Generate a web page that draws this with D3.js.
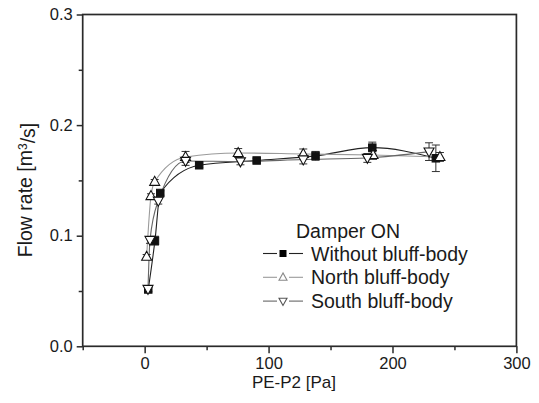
<!DOCTYPE html>
<html>
<head>
<meta charset="utf-8">
<script src="https://cdn.jsdelivr.net/npm/d3@7"></script>
<style>
  html, body { margin: 0; padding: 0; background: #fff; }
  svg { display: block; font-family: "Liberation Sans", Arial, sans-serif; }
</style>
</head>
<body>
<svg id="chart" width="539" height="403"></svg>
<script>
// ---- data ----
const xTicks = [0, 100, 200, 300];
const yTicks = [0.0, 0.1, 0.2, 0.3];
const seriesNames = ["Without bluff-body", "North bluff-body", "South bluff-body"];
const legendTitle = "Damper ON";

const pressureWithout = [2.9, 8.3, 12.6, 44, 90.4, 137.9, 183.7, 235];
const flowWithout     = [0.0514, 0.0955, 0.1386, 0.1637, 0.168, 0.1722, 0.1796, 0.170];
const errWithout      = [0.002, 0.004, 0.002, 0.002, 0.002, 0.004, 0.005, 0.012];

const pressureNorth = [1.6, 5.1, 8.1, 33, 75.5, 128, 184.3, 238.3];
const flowNorth     = [0.081, 0.1359, 0.1488, 0.1712, 0.1748, 0.1739, 0.173, 0.1712];
const errNorth      = [0.002, 0.002, 0.002, 0.005, 0.004, 0.0045, 0.004, 0.004];

const pressureSouth = [2.7, 4.3, 11, 33, 77.3, 128, 179.7, 229.5];
const flowSouth     = [0.0518, 0.0961, 0.1316, 0.1676, 0.1671, 0.1689, 0.1703, 0.176];
const errSouth      = [0.002, 0.003, 0.003, 0.004, 0.003, 0.004, 0.004, 0.008];

// ---- layout ----
const svg = d3.select("#chart");
const L = 82.7, R = 516.4, T = 14.5, B = 346.3;
const x = d3.scaleLinear().domain([-50, 300]).range([L, R]);
const y = d3.scaleLinear().domain([0, 0.3]).range([B, T]);
const axisColor = "#2a2a2a";

const series = [
  { name: seriesNames[0], xs: pressureWithout, ys: flowWithout, es: errWithout, symbol: "square", line: "#222", legendMarker: "#000" },
  { name: seriesNames[1], xs: pressureNorth, ys: flowNorth, es: errNorth, symbol: "up", line: "#9a9a9a", legendMarker: "#888" },
  { name: seriesNames[2], xs: pressureSouth, ys: flowSouth, es: errSouth, symbol: "down", line: "#666", legendMarker: "#555" }
];

// ---- axes ----
const xAxis = d3.axisBottom(x).tickValues(xTicks).tickSize(7).tickFormat(d3.format("d"));
const xMinor = d3.axisBottom(x).tickValues([-50, 50, 150, 250]).tickSize(4).tickFormat("");
const yAxis = d3.axisLeft(y).tickValues(yTicks).tickSize(6).tickFormat(d3.format(".1f"));
const yMinor = d3.axisLeft(y).tickValues([0.05, 0.15, 0.25]).tickSize(4).tickFormat("");

function styleAxis(g) {
  g.select(".domain").remove();
  g.selectAll("line").attr("stroke", axisColor).attr("stroke-width", 1.5);
  g.selectAll("text").attr("fill", "#1a1a1a").style("font-size", "16.5px")
    .style("font-family", '"Liberation Sans", Arial, sans-serif');
}
svg.append("g").attr("transform", `translate(0,${B})`).call(xMinor).call(styleAxis);
svg.append("g").attr("transform", `translate(0,${B})`).call(xAxis).call(styleAxis)
  .selectAll("text").attr("dy", "0.71em").attr("y", 11);
svg.append("g").attr("transform", `translate(${L},0)`).call(yMinor).call(styleAxis);
svg.append("g").attr("transform", `translate(${L},0)`).call(yAxis).call(styleAxis)
  .selectAll("text").attr("x", -10);

// frame
svg.append("rect").attr("x", L).attr("y", T).attr("width", R - L).attr("height", B - T)
  .attr("fill", "none").attr("stroke", axisColor).attr("stroke-width", 1.7);

// axis titles
svg.append("text").attr("x", 294).attr("y", 388).attr("text-anchor", "middle")
  .style("font-size", "17px").attr("fill", "#1a1a1a").text("PE-P2 [Pa]");
const yt = svg.append("text").attr("transform", `translate(32,190) rotate(-90)`)
  .attr("text-anchor", "middle").style("font-size", "19.5px").attr("fill", "#1a1a1a");
yt.append("tspan").text("Flow rate [m");
yt.append("tspan").attr("dy", "-0.45em").style("font-size", "12px").text("3");
yt.append("tspan").attr("dy", "0.45em").text("/s]");

// ---- lines ----
const lineGen = d3.line().x(d => x(d[0])).y(d => y(d[1])).curve(d3.curveMonotoneX);
const plot = svg.append("g");
series.forEach(s => {
  const pts = s.xs.map((v, i) => [v, s.ys[i]]);
  plot.append("path").datum(pts).attr("d", lineGen).attr("fill", "none")
    .attr("stroke", s.line).attr("stroke-width", 1.1);
});

// ---- error bars ----
series.forEach(s => {
  s.xs.forEach((v, i) => {
    const cx = x(v), y1 = y(s.ys[i] + s.es[i]), y2 = y(s.ys[i] - s.es[i]);
    const g = plot.append("g").attr("stroke", "#333").attr("stroke-width", 1);
    g.append("line").attr("x1", cx).attr("x2", cx).attr("y1", y1).attr("y2", y2);
    g.append("line").attr("x1", cx - 4).attr("x2", cx + 4).attr("y1", y1).attr("y2", y1);
    g.append("line").attr("x1", cx - 4).attr("x2", cx + 4).attr("y1", y2).attr("y2", y2);
  });
});

// ---- markers ----
function drawMarker(g, type, cx, cy, size, color) {
  if (type === "square") {
    g.append("rect").attr("x", cx - size / 2).attr("y", cy - size / 2)
      .attr("width", size).attr("height", size).attr("fill", color).attr("stroke", color);
  } else {
    const h = size * 0.9, w = size;
    const pts = type === "up"
      ? [[cx, cy - h * 0.6], [cx - w / 2, cy + h * 0.4], [cx + w / 2, cy + h * 0.4]]
      : [[cx, cy + h * 0.6], [cx - w / 2, cy - h * 0.4], [cx + w / 2, cy - h * 0.4]];
    g.append("polygon").attr("points", pts.map(p => p.join(",")).join(" "))
      .attr("fill", "#fff").attr("stroke", color).attr("stroke-width", 1.1);
  }
}
series.forEach(s => {
  s.xs.forEach((v, i) => {
    drawMarker(plot, s.symbol, x(v), y(s.ys[i]), s.symbol === "square" ? 7.5 : 10, "#111");
  });
});

// ---- legend ----
const lg = svg.append("g");
lg.append("text").attr("x", 296).attr("y", 237.5).style("font-size", "19.5px")
  .attr("fill", "#1a1a1a").text(legendTitle);
series.forEach((s, i) => {
  const ly = 253.5 + i * 23.8;
  lg.append("line").attr("x1", 263).attr("x2", 277).attr("y1", ly).attr("y2", ly)
    .attr("stroke", s.line).attr("stroke-width", 1.1);
  lg.append("line").attr("x1", 289).attr("x2", 303).attr("y1", ly).attr("y2", ly)
    .attr("stroke", s.line).attr("stroke-width", 1.1);
  drawMarker(lg, s.symbol, 283, ly, s.symbol === "square" ? 6 : 8, s.legendMarker);
  lg.append("text").attr("x", 311).attr("y", ly + 7).style("font-size", "19.5px")
    .attr("fill", "#1a1a1a").text(s.name);
});
</script>
</body>
</html>
